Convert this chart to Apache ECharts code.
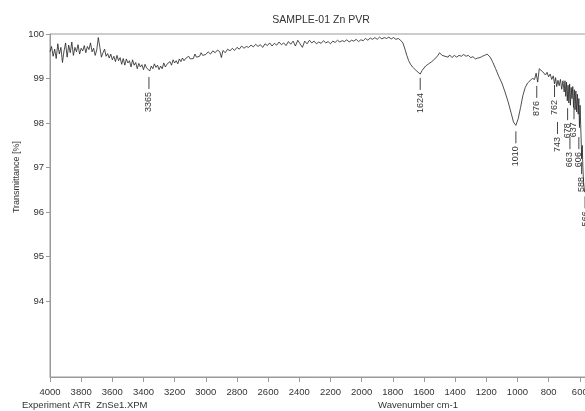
<!DOCTYPE html>
<html>
<head>
<meta charset="utf-8">
<script src="https://cdn.jsdelivr.net/npm/echarts@6/dist/echarts.min.js"></script>
<style>html,body{margin:0;padding:0;background:#fff}#c{width:585px;height:411px}</style>
</head>
<body>
<div id="c"></div>
<script>
const titleText = 'SAMPLE-01 Zn PVR';
const xAxisTitle = 'Wavenumber cm-1';
const yAxisTitle = 'Transmittance [%]';
const footerText = 'Experiment ATR  ZnSe1.XPM';
const xTicks = [4000,3800,3600,3400,3200,3000,2800,2600,2400,2200,2000,1800,1600,1400,1200,1000,800,600];
const yTicks = [94,95,96,97,98,99,100];

// [wavenumber, transmittance %], region by region
const ohRegion = [
[4000,99.60],[3990,99.72],[3980,99.50],[3970,99.66],[3960,99.45],[3950,99.78],[3940,99.55],[3930,99.70],[3920,99.36],[3910,99.62],
[3900,99.80],[3890,99.48],[3880,99.75],[3870,99.58],[3860,99.82],[3850,99.52],[3840,99.70],[3830,99.60],[3820,99.76],[3810,99.55],
[3800,99.68],[3790,99.62],[3780,99.74],[3770,99.58],[3760,99.72],[3750,99.65],[3740,99.80],[3730,99.60],[3720,99.68],[3710,99.52],
[3700,99.64],[3690,99.92],[3680,99.70],[3670,99.48],[3660,99.58],[3650,99.66],[3640,99.50],[3630,99.56],[3620,99.46],[3610,99.55],
[3600,99.42],[3590,99.50],[3580,99.38],[3570,99.52],[3560,99.40],[3550,99.47],[3540,99.32],[3530,99.45],[3520,99.30],[3510,99.44],
[3500,99.35],[3490,99.40],[3480,99.26],[3470,99.42],[3460,99.30],[3450,99.36],[3440,99.22],[3430,99.34],[3420,99.26],[3410,99.31],
[3400,99.20],[3390,99.32],[3380,99.24],[3370,99.20],[3360,99.17],[3350,99.28],[3340,99.22],[3330,99.33],[3320,99.25],[3310,99.30],
[3300,99.20],[3290,99.28],[3280,99.22],[3270,99.35],[3260,99.26],[3250,99.32],[3240,99.28],[3230,99.38],[3220,99.30],[3210,99.42],
[3200,99.35],[3190,99.40],[3180,99.33],[3170,99.44],[3160,99.38],[3150,99.46],[3140,99.40],[3130,99.45],[3120,99.42],[3110,99.50],
[3100,99.44],[3090,99.48],[3080,99.45],[3070,99.55],[3060,99.48],[3050,99.52],[3040,99.50],[3030,99.58],[3020,99.52],[3010,99.56],
[3000,99.54]
];
const midRegion = [
[2985,99.60],[2970,99.55],[2955,99.62],[2940,99.58],[2925,99.64],[2910,99.60],[2900,99.47],[2890,99.63],[2875,99.58],[2860,99.66],
[2845,99.62],[2830,99.68],[2815,99.63],[2800,99.70],[2785,99.66],[2770,99.73],[2755,99.68],[2740,99.72],[2725,99.70],[2710,99.75],
[2695,99.71],[2680,99.77],[2665,99.72],[2650,99.76],[2635,99.70],[2620,99.78],[2605,99.74],[2590,99.80],[2575,99.73],[2560,99.79],
[2545,99.75],[2530,99.82],[2515,99.76],[2500,99.80],[2485,99.74],[2470,99.83],[2455,99.77],[2440,99.84],[2425,99.73],[2410,99.86],
[2395,99.78],[2380,99.70],[2365,99.84],[2350,99.78],[2335,99.86],[2320,99.80],[2305,99.84],[2290,99.78],[2275,99.82],[2260,99.79],
[2245,99.85],[2230,99.80],[2215,99.83],[2200,99.78],[2185,99.84],[2170,99.81],[2155,99.86],[2140,99.82],[2125,99.85],[2110,99.83],
[2095,99.87],[2080,99.82],[2065,99.86],[2050,99.84],[2035,99.88],[2020,99.83],[2005,99.87],[1990,99.85],[1975,99.90],[1960,99.86],
[1945,99.91],[1930,99.88],[1915,99.92],[1900,99.88],[1885,99.93],[1870,99.89],[1855,99.92],[1840,99.90],[1825,99.93],[1810,99.89],
[1795,99.92],[1780,99.88],[1765,99.90]
];
const amideRegion = [
[1750,99.86],[1735,99.80],[1722,99.66],[1710,99.52],[1698,99.40],[1686,99.32],[1674,99.26],[1662,99.22],[1650,99.18],[1638,99.15],
[1624,99.10],[1612,99.18],[1600,99.22],[1590,99.28],[1580,99.25],[1570,99.33],[1560,99.30],[1550,99.38],[1540,99.35],[1530,99.44],
[1520,99.40],[1510,99.52],[1500,99.58],[1492,99.62],[1484,99.52],[1475,99.56],[1465,99.50],[1455,99.54],[1445,99.48],[1435,99.53],
[1420,99.47],[1405,99.52],[1390,99.48],[1375,99.52],[1360,99.50],[1345,99.54],[1330,99.50],[1315,99.52],[1300,99.47],[1285,99.49],
[1270,99.44],[1255,99.46],[1240,99.47],[1225,99.50],[1210,99.52],[1195,99.55],[1185,99.54],[1175,99.48]
];
const fingerprintRegion = [
[1160,99.38],[1140,99.22],[1120,99.05],[1100,98.90],[1080,98.70],[1060,98.48],[1040,98.22],[1025,98.02],[1010,97.95],[995,98.10],
[980,98.35],[965,98.62],[950,98.80],[935,98.90],[920,98.95],[905,99.00],[890,98.98],[880,99.12],[870,98.92],[860,99.22],
[850,99.24],[840,99.16],[830,99.20],[820,99.08],[810,99.14],[800,99.04],[790,99.10],[780,98.98],[770,99.06],[762,98.88],
[755,99.02],[748,98.82],[740,98.96],[732,98.84],[724,98.98],[716,98.76],[708,98.95],[700,98.70],[695,98.95],[690,98.60],
[685,98.92],[680,98.50],[675,98.85],[670,98.45],[665,98.88],[660,98.40],[655,98.80],[650,98.55],[645,98.82],[640,98.35],
[635,98.75],[630,98.30],[625,98.72],[620,98.25],[615,98.65],[610,98.20],[606,98.55],[602,97.90],[598,98.40],[594,97.95],
[590,97.50],[588,97.20],[584,97.50],[580,97.00],[576,96.70],[572,96.55],[568,96.45],[566,96.42],[562,96.50],[560,96.60]
];
const peakWavenumbers = [3365,1624,1010,876,762,743,678,663,637,606,588,566];
const peakLabelAnchors = [99.08,99.06,97.86,98.88,98.90,98.07,98.38,97.73,98.40,97.73,97.17,96.40];

const spectrum = ohRegion.concat(midRegion, amideRegion, fingerprintRegion);
const peaks = peakWavenumbers.map((w, i) => [w, peakLabelAnchors[i]]);

const FONT = '"Liberation Sans Narrow","Liberation Sans",Arial,sans-serif';
const chart = echarts.init(document.getElementById('c'), null, {renderer: 'canvas'});
chart.setOption({
  animation: false,
  backgroundColor: '#fff',
  grid: {left: 50, width: 536, top: 34, height: 343, containLabel: false, outerBoundsMode: 'none', show: true, borderColor: '#9a9a9a', borderWidth: 1},
  xAxis: {
    type: 'value', inverse: true, min: 560, max: 4000,
    axisLine: {show: true, lineStyle: {color: '#9a9a9a', width: 1}},
    axisTick: {show: true, length: 5, customValues: xTicks, lineStyle: {color: '#9a9a9a'}},
    axisLabel: {customValues: xTicks, formatter: v => String(v), margin: 10, color: '#333', fontSize: 9.5, fontFamily: FONT, hideOverlap: false},
    splitLine: {show: false}
  },
  yAxis: {
    type: 'value', min: 92.3, max: 100,
    axisLine: {show: true, lineStyle: {color: '#9a9a9a', width: 1}},
    axisTick: {show: true, length: 4, customValues: yTicks, lineStyle: {color: '#9a9a9a'}},
    axisLabel: {customValues: yTicks, formatter: v => String(v), margin: 6, color: '#333', fontSize: 9.5, fontFamily: FONT},
    splitLine: {show: false}
  },
  graphic: [
    {type: 'text', x: 321, y: 20, style: {text: titleText, font: '10.5px ' + FONT, fill: '#333', align: 'center', verticalAlign: 'middle'}},
    {type: 'text', x: 418, y: 405, style: {text: xAxisTitle, font: '9.5px ' + FONT, fill: '#333', align: 'center', verticalAlign: 'middle'}},
    {type: 'text', x: 22, y: 405, style: {text: footerText, font: '9.5px ' + FONT, fill: '#333', align: 'left', verticalAlign: 'middle'}},
    {type: 'text', x: 17, y: 177, rotation: Math.PI / 2, style: {text: yAxisTitle, font: '9px ' + FONT, fill: '#333', align: 'center', verticalAlign: 'middle'}}
  ],
  series: [
    {
      type: 'line', data: spectrum, showSymbol: false, symbol: 'none',
      lineStyle: {color: '#222', width: 0.8}, clip: true
    },
    {
      type: 'custom', data: peaks, clip: false,
      renderItem: function (params, api) {
        const p = api.coord([api.value(0), api.value(1)]);
        return {
          type: 'group',
          children: [
            {type: 'line', shape: {x1: p[0], y1: p[1] + 2, x2: p[0], y2: p[1] + 14}, style: {stroke: '#444', lineWidth: 1}},
            {type: 'text', x: p[0], y: p[1] + 17, rotation: Math.PI / 2,
             style: {text: String(api.value(0)), font: '9px ' + FONT, fill: '#333', align: 'right', verticalAlign: 'middle'}}
          ]
        };
      }
    }
  ]
});
</script>
</body>
</html>
